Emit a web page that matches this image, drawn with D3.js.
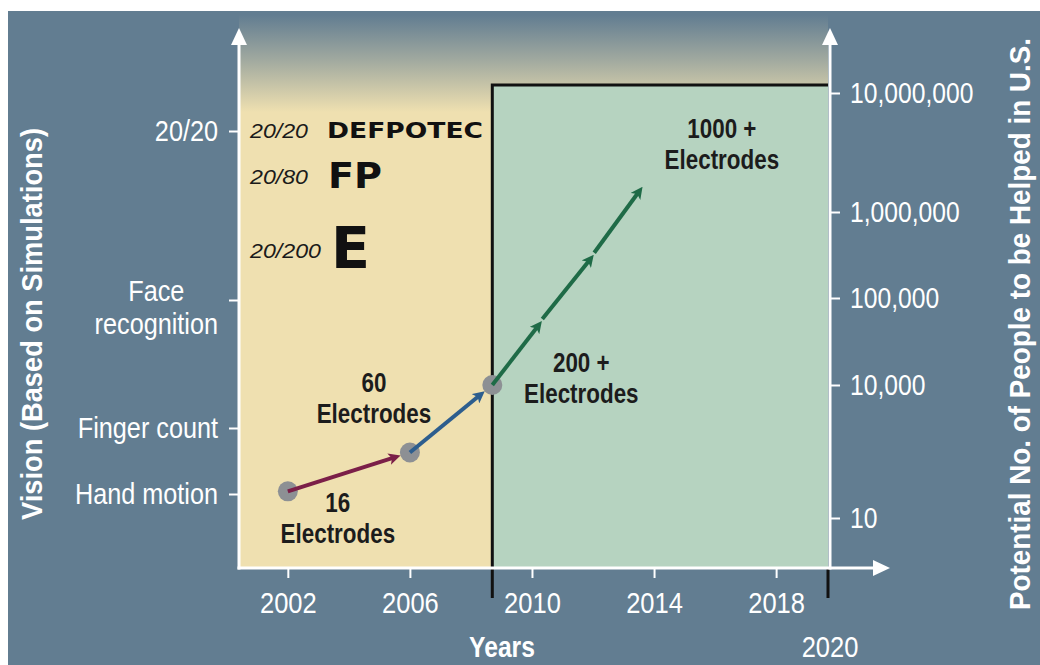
<!DOCTYPE html>
<html><head><meta charset="utf-8">
<script src="https://cdn.jsdelivr.net/npm/d3@7"></script>
<style>html,body{margin:0;padding:0;background:#fff;} svg{display:block}</style>
</head><body>
<svg id="chart" width="1040" height="665"></svg>
<script>
// ---------------- data ----------------
const years = [2002, 2006, 2008.7];
const people = [40, 300, 10000];
const electrodeCounts = ["16", "60", "200 +"];
const projYears = [2008.7, 2010.3, 2012.0, 2013.6];
const projPeople = [10000, 53000, 310000, 1600000];
const projLabel = "1000 +";
const xTicks = [2002, 2006, 2010, 2014, 2018];
const xEndLabel = "2020";
const dividerYear = 2008.7;
const visionLevels = ["Hand motion", "Finger count", "Face\nrecognition", "20/20"];
const peopleTicks = [10, 10000, 100000, 1000000, 10000000];
const acuityRows = ["20/20", "20/80", "20/200"];
const chartLetters = ["DEFPOTEC", "FP", "E"];
const xTitle = "Years";
const yLeftTitle = "Vision (Based on Simulations)";
const yRightTitle = "Potential No. of People to be Helped in U.S.";

// ---------------- layout ----------------
const W = 1040, H = 665;
const BG = "#627d91", BEIGE = "#efe0b0", GREEN = "#b6d3c0";
const SANS = "'Liberation Sans',Arial,sans-serif";
const yBottom = 568, yTop = 15, boxTop = 85;

const x = d3.scaleLinear().domain([2000.4, 2019.7]).range([239, 828]);
const yPeople = d3.scaleLog().domain([10, 1e4, 1e5, 1e6, 1e7]).range([518, 385, 298, 212, 93]);
const yVision = d3.scaleLinear().domain([0, 1, 2, 3]).range([494, 428, 300, 131]);
const [x0, x1] = x.range();

// narrow a text horizontally (condensed look)
function condense(sel, f) {
  sel.each(function () {
    const w = this.getComputedTextLength();
    d3.select(this).attr("textLength", w * f).attr("lengthAdjust", "spacingAndGlyphs");
  });
}

const svg = d3.select("#chart");
const defs = svg.append("defs");

// background
svg.append("rect").attr("x", 8).attr("y", 11).attr("width", W - 8).attr("height", H - 11).attr("fill", BG);

// gradient top
const grad = defs.append("linearGradient").attr("id", "topfade")
  .attr("gradientUnits", "userSpaceOnUse").attr("x1", 0).attr("y1", yTop).attr("x2", 0).attr("y2", 112);
grad.append("stop").attr("offset", 0).attr("stop-color", BG);
grad.append("stop").attr("offset", 0.45).attr("stop-color", "#9fa89f");
grad.append("stop").attr("offset", 1).attr("stop-color", BEIGE);

svg.append("rect").attr("x", x0).attr("y", yTop).attr("width", x1 - x0).attr("height", yBottom - yTop)
  .attr("fill", "url(#topfade)");
svg.append("rect").attr("x", x(dividerYear)).attr("y", boxTop).attr("width", x1 - x(dividerYear))
  .attr("height", yBottom - boxTop).attr("fill", GREEN);

// black frame of projection box
svg.append("path")
  .attr("d", `M${x(dividerYear)},${yBottom + 30}V${boxTop}H${x1}`)
  .attr("fill", "none").attr("stroke", "#111").attr("stroke-width", 3);
svg.append("line").attr("x1", x1).attr("x2", x1).attr("y1", yBottom).attr("y2", yBottom + 30)
  .attr("stroke", "#111").attr("stroke-width", 3);

// ---------------- eye chart ----------------
const rowBase = [138, 184, 258];
const letterSize = [21, 35, 57];
const eye = svg.append("g");
eye.selectAll("text.acuity").data(acuityRows).join("text").attr("class", "acuity")
  .attr("x", 250).attr("y", (d, i) => rowBase[i]).text(d => d)
  .attr("font-family", SANS).attr("font-style", "italic")
  .attr("font-size", 21).attr("fill", "#1a1a1a")
  .attr("textLength", (d, i) => [58, 58, 71][i]).attr("lengthAdjust", "spacingAndGlyphs");
eye.selectAll("text.letters").data(chartLetters).join("text").attr("class", "letters")
  .attr("x", (d, i) => [327, 328, 331][i])
  .attr("y", (d, i) => rowBase[i] + [0, 4, 10][i])
  .attr("font-family", "'DejaVu Sans',sans-serif").attr("font-weight", "bold")
  .attr("font-size", (d, i) => letterSize[i])
  .attr("fill", "#111").text(d => d)
  .attr("textLength", (d, i) => [156, 54, 39][i]).attr("lengthAdjust", "spacingAndGlyphs");

// ---------------- axes ----------------
const white = "#ffffff";
// x axis
const gx = svg.append("g").attr("transform", `translate(0,${yBottom})`)
  .call(d3.axisBottom(x).tickValues(xTicks).tickFormat(d3.format("d")).tickSize(10).tickSizeOuter(0));
gx.select(".domain").remove();
gx.selectAll(".tick line").attr("stroke", white).attr("stroke-width", 2);
gx.selectAll(".tick text").attr("fill", white).attr("font-family", SANS).attr("font-size", 30)
  .attr("y", 45).attr("dy", 0).call(condense, 0.85);
svg.append("text").attr("x", x1 + 2).attr("y", 657).attr("text-anchor", "middle")
  .attr("fill", white).attr("font-family", SANS).attr("font-size", 30).text(xEndLabel).call(condense, 0.85);
svg.append("text").attr("x", 502).attr("y", 657).attr("text-anchor", "middle")
  .attr("fill", white).attr("font-family", SANS).attr("font-weight", "bold").attr("font-size", 29).text(xTitle)
  .call(condense, 0.85);

// left axis
const gl = svg.append("g").attr("transform", `translate(${x0},0)`)
  .call(d3.axisLeft(yVision).tickValues([0, 1, 2, 3]).tickFormat(i => visionLevels[i]).tickSize(10).tickPadding(11));
gl.select(".domain").remove();
gl.selectAll(".tick line").attr("stroke", white).attr("stroke-width", 2);
gl.selectAll(".tick text").attr("fill", white).attr("font-family", SANS).attr("font-size", 29)
  .each(function (i) {
    const label = visionLevels[i];
    const t = d3.select(this);
    if (label.includes("\n")) {
      t.text(null).attr("dy", null);
      label.split("\n").forEach((ln, k) => t.append("tspan").text(ln).attr("y", k * 33));
      const ts = t.selectAll("tspan");
      condense(ts, 0.87);
      let maxW = 0;
      ts.each(function () { maxW = Math.max(maxW, +this.getAttribute("textLength")); });
      t.attr("text-anchor", "middle");
      ts.attr("x", -21 - maxW / 2);
    } else {
      condense(t, 0.87);
    }
  });

// right axis
const gr = svg.append("g").attr("transform", `translate(830,0)`)
  .call(d3.axisRight(yPeople).tickValues(peopleTicks).tickFormat(d3.format(",")).tickSize(10).tickPadding(10));
gr.select(".domain").remove();
gr.selectAll(".tick line").attr("stroke", white).attr("stroke-width", 2);
gr.selectAll(".tick text").attr("fill", white).attr("font-family", SANS).attr("font-size", 29)
  .call(condense, 0.85);

// axis lines with arrows
const axisG = svg.append("g");
axisG.append("path").attr("d", `M${x0},${yBottom + 1.5}V44`).attr("stroke", white).attr("stroke-width", 3);
axisG.append("path").attr("d", `M${x0 - 8},45L${x0},28L${x0 + 8},45Z`).attr("fill", white);
axisG.append("path").attr("d", `M830,${yBottom + 1.5}V44`).attr("stroke", white).attr("stroke-width", 3);
axisG.append("path").attr("d", `M822,45L830,28L838,45Z`).attr("fill", white);
axisG.append("path").attr("d", `M${x0 - 1.5},${yBottom}H874`).attr("stroke", white).attr("stroke-width", 3);
axisG.append("path").attr("d", `M873,${yBottom - 8}L890,${yBottom}L873,${yBottom + 8}Z`).attr("fill", white);

// titles
svg.append("text").attr("transform", `translate(42,324) rotate(-90)`).attr("text-anchor", "middle")
  .attr("fill", white).attr("font-family", SANS).attr("font-weight", "bold").attr("font-size", 29)
  .attr("textLength", 392).attr("lengthAdjust", "spacingAndGlyphs").text(yLeftTitle);
svg.append("text").attr("transform", `translate(1030,324) rotate(-90)`).attr("text-anchor", "middle")
  .attr("fill", white).attr("font-family", SANS).attr("font-weight", "bold").attr("font-size", 29)
  .attr("textLength", 572).attr("lengthAdjust", "spacingAndGlyphs").text(yRightTitle);

// ---------------- markers ----------------
function marker(id, color) {
  defs.append("marker").attr("id", id).attr("viewBox", "0 -5 10 10")
    .attr("refX", 4).attr("refY", 0).attr("markerWidth", 12).attr("markerHeight", 12)
    .attr("markerUnits", "userSpaceOnUse").attr("orient", "auto")
    .append("path").attr("d", "M0,-5L10,0L0,5L2.5,0Z").attr("fill", color);
}
const segColors = ["#7b1f48", "#2d5e8e"];
const GREENLINE = "#1f6b47";
marker("m0", segColors[0]); marker("m1", segColors[1]); marker("mg", GREENLINE);

// circles
const pts = years.map((yr, i) => [x(yr), yPeople(people[i])]);
svg.selectAll("circle.pt").data(pts).join("circle").attr("class", "pt")
  .attr("cx", d => d[0]).attr("cy", d => d[1]).attr("r", 10).attr("fill", "#8d9094");

function arrowSeg(a, b, shortenEnd, color, mid) {
  const dx = b[0] - a[0], dy = b[1] - a[1], L = Math.hypot(dx, dy);
  const ux = dx / L, uy = dy / L;
  const tip = [b[0] - ux * shortenEnd, b[1] - uy * shortenEnd];
  const end = [tip[0] - ux * 6, tip[1] - uy * 6];
  svg.append("line").attr("x1", a[0]).attr("y1", a[1]).attr("x2", end[0]).attr("y2", end[1])
    .attr("stroke", color).attr("stroke-width", 4).attr("marker-end", `url(#${mid})`);
}
for (let i = 0; i < pts.length - 1; i++) arrowSeg(pts[i], pts[i + 1], 11, segColors[i], "m" + i);
const proj = projYears.map((yr, i) => [x(yr), yPeople(projPeople[i])]);
for (let j = 0; j < proj.length - 1; j++) {
  const a = j === 0 ? proj[j] : [proj[j][0] + 1.2, proj[j][1] - 3];
  arrowSeg(a, proj[j + 1], 0, GREENLINE, "mg");
}

// ---------------- annotations ----------------
const labOff = [[50, 21], [-36, -61], [89, -13]];
function label(px, py, lines) {
  lines.forEach((ln, k) => {
    svg.append("text").attr("text-anchor", "middle").attr("fill", "#1c1c1c")
      .attr("font-family", SANS).attr("font-size", 28).attr("font-weight", "bold")
      .attr("x", px).attr("y", py + k * 31).text(ln).call(condense, 0.8);
  });
}
pts.forEach((p, i) => label(p[0] + labOff[i][0], p[1] + labOff[i][1], [electrodeCounts[i], "Electrodes"]));
const last = proj[proj.length - 1];
label(last[0] + 80, last[1] - 50, [projLabel, "Electrodes"]);
</script>
</body></html>
